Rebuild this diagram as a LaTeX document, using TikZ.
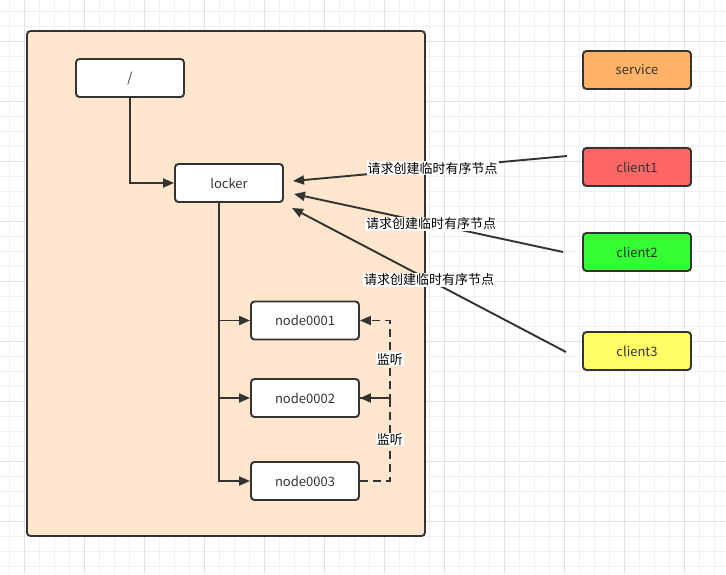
\documentclass[tikz,border=0pt]{standalone}
\usepackage{fontspec}
\setmainfont{Noto Sans CJK SC}
\usetikzlibrary{arrows.meta}
\definecolor{peach}{HTML}{FFE6CC}
\definecolor{dark}{HTML}{333333}
\definecolor{svc}{HTML}{FFB366}
\definecolor{cone}{HTML}{FF6666}
\definecolor{ctwo}{HTML}{33FF33}
\definecolor{cthree}{HTML}{FFFF66}
\definecolor{gridminor}{HTML}{F0F0F0}
\definecolor{gridmajor}{HTML}{E2E2E2}
\tikzset{
  box/.style={draw=dark, line width=1.9pt, rounded corners=3.5pt, fill=white,
    minimum width=108pt, minimum height=38pt, inner sep=0pt, text=dark,
    font=\fontsize{13}{15}\selectfont},
  conn/.style={draw=dark, line width=1.9pt, -{Triangle[length=11pt,width=9pt]}},
  lbl/.style={fill=white, inner sep=1pt, text=black, font=\fontsize{13}{15}\selectfont},
  dashconn/.style={conn, dash pattern=on 8pt off 5pt}
}
\begin{document}
\begin{tikzpicture}[x=1pt,y=-1pt]
\useasboundingbox (0,0) rectangle (726,574);
\fill[white] (0,0) rectangle (726,574);
% grid
\foreach \i in {0,...,49} {
  \draw[gridminor, line width=1pt] ({9.7+15*\i},0) -- ({9.7+15*\i},574);
}
\foreach \i in {0,...,38} {
  \draw[gridminor, line width=1pt] (0,{11.3+15*\i}) -- (726,{11.3+15*\i});
}
\foreach \i in {0,...,12} {
  \draw[gridmajor, line width=1pt] ({24.7+60*\i},0) -- ({24.7+60*\i},574);
}
\foreach \i in {0,...,9} {
  \draw[gridmajor, line width=1pt] (0,{41.3+60*\i}) -- (726,{41.3+60*\i});
}
% container
\node[draw=dark, line width=1.9pt, rounded corners=3.5pt, fill=peach,
  minimum width=398pt, minimum height=505pt, inner sep=0pt] (container) at (226,283.5) {};
% nodes
\node[box] (root) at (130,78) {/};
\node[box] (locker) at (229,183) {locker};
\node[box] (n1) at (305,320.5) {node0001};
\node[box] (n2) at (305,398) {node0002};
\node[box] (n3) at (305,481) {node0003};
\node[box, fill=svc] (service) at (637,70) {service};
\node[box, fill=cone] (client1) at (637,167) {client1};
\node[box, fill=ctwo] (client2) at (637,252) {client2};
\node[box, fill=cthree] (client3) at (637,351) {client3};
% tree connectors
\draw[conn] (root.south) |- (locker.west);
\draw[conn] ([xshift=-10pt]locker.south) |- (n1.west);
\draw[conn] ([xshift=-10pt]locker.south) |- (n2.west);
\draw[conn] ([xshift=-10pt]locker.south) |- (n3.west);
% watch connectors
\draw[dashconn] (n2.east) -- ++(30,0) |- node[lbl, pos=0.25] {监听} (n1.east);
\draw[dashconn] (n3.east) -- ++(30,0) |- node[lbl, pos=0.25] {监听} (n2.east);
% client requests
\coordinate (s1) at (567,156);
\coordinate (t1) at (293,181);
\coordinate (s2) at (563,252);
\coordinate (t2) at (294,194);
\coordinate (s3) at (566,352);
\coordinate (t3) at (292,208);
\draw[conn] (s1) -- node[lbl, pos=0.49] {请求创建临时有序节点} (t1);
\draw[conn] (s2) -- node[lbl, pos=0.49] {请求创建临时有序节点} (t2);
\draw[conn] (s3) -- node[lbl, pos=0.5] {请求创建临时有序节点} (t3);
\end{tikzpicture}
\end{document}
